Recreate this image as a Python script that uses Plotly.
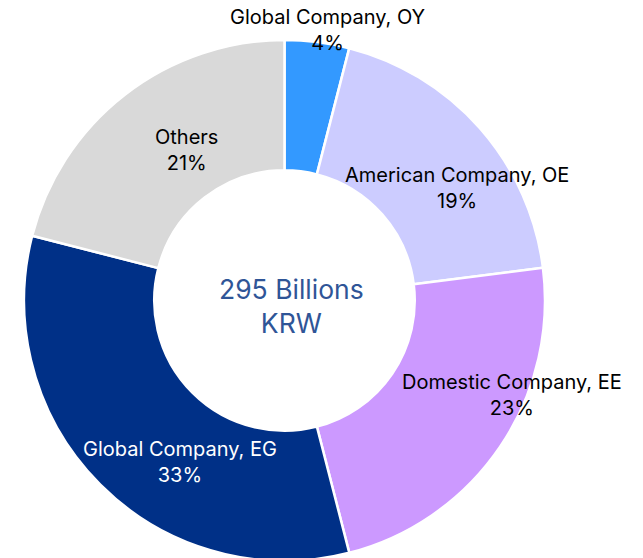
import math
import plotly.graph_objects as go

labels = ["Global Company, OY", "American Company, OE", "Domestic Company, EE",
          "Global Company, EG", "Others"]
shares = [4, 19, 23, 33, 21]
colors = ["#3399FF", "#CCCCFF", "#CC99FF", "#003087", "#D9D9D9"]
text_colors = ["#000000", "#000000", "#000000", "#FFFFFF", "#000000"]
center_text = "295 Billions<br>KRW"

# label placement: radius as fraction of outer radius, angle nudge from slice middle (deg)
label_radius = [1.05, 0.79, 0.945, 0.74, 0.69]
label_shift = [2.0, 8.4, -11.6, -12.0, 4.9]

FONT = "Inter, sans-serif"

fig = go.Figure(go.Pie(
    labels=labels,
    values=shares,
    hole=0.5,
    sort=False,
    direction="clockwise",
    rotation=0,
    marker=dict(colors=colors, line=dict(color="white", width=2.5)),
    textinfo="none",
    hoverinfo="label+percent",
    showlegend=False,
))

# slice labels, placed around each slice's middle angle
total = sum(shares)
cum = 0
for lab, v, tc, r, sh in zip(labels, shares, text_colors, label_radius, label_shift):
    mid = (cum + v / 2) / total * 360 + sh
    cum += v
    a = math.radians(mid)
    fig.add_annotation(
        text=f"{lab}<br>{round(v / total * 100)}%",
        x=0.5 + 0.5 * r * math.sin(a), y=0.5 + 0.5 * r * math.cos(a),
        xref="paper", yref="paper", showarrow=False,
        xanchor="center", yanchor="middle",
        font=dict(family=FONT, size=20, color=tc),
    )

# total in the hole (sits a little right/below the exact centre, as in the original)
fig.add_annotation(
    text=center_text, x=0.513, y=0.49, xref="paper", yref="paper",
    showarrow=False,
    font=dict(family=FONT, size=26.5, color="#2F5597"),
)

fig.update_layout(
    width=643, height=558,
    margin=dict(l=16, r=106, t=32, b=5),
    paper_bgcolor="white",
)

fig.write_html("out.html")
